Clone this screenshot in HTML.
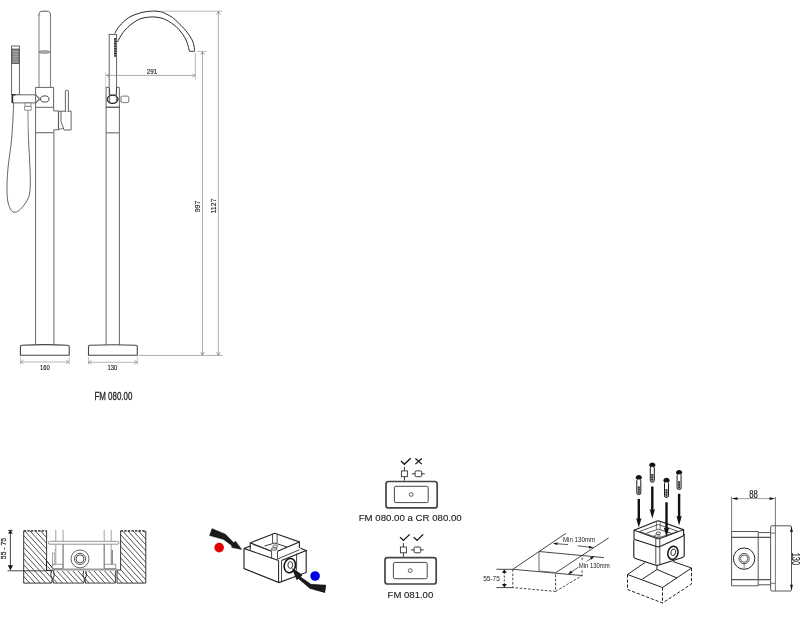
<!DOCTYPE html>
<html><head><meta charset="utf-8"><style>
html,body{margin:0;padding:0;background:#fff;width:800px;height:621px;overflow:hidden}
svg{display:block;will-change:transform}
text{font-family:"Liberation Sans",sans-serif}
</style></head><body>
<svg width="800" height="621" viewBox="0 0 800 621">
<line x1="39" y1="14.8" x2="39" y2="87.5" stroke="#a8a8a8" stroke-width="1.5"/>
<line x1="50.5" y1="14.8" x2="50.5" y2="87.5" stroke="#858585" stroke-width="1.1"/>
<path d="M38.9,15.5 Q38.9,11.2 42.2,11.2 H47.2 Q50.5,11.2 50.5,15.5" stroke="#555" stroke-width="1" fill="none"/>
<ellipse cx="44.5" cy="52" rx="5.6" ry="1.3" fill="#b8b8b8" stroke="#555" stroke-width="0.6"/>
<rect x="11.6" y="46" width="7.8" height="48.8" fill="#fff" stroke="#555" stroke-width="0.9"/>
<rect x="12.1" y="49" width="6.8" height="14.6" fill="#8a8a8a" stroke="#333" stroke-width="0.6"/>
<line x1="12.3" y1="51.5" x2="18.7" y2="51.5" stroke="#bbb" stroke-width="0.5"/>
<line x1="12.3" y1="54" x2="18.7" y2="54" stroke="#bbb" stroke-width="0.5"/>
<line x1="12.3" y1="56.5" x2="18.7" y2="56.5" stroke="#bbb" stroke-width="0.5"/>
<line x1="12.3" y1="59" x2="18.7" y2="59" stroke="#bbb" stroke-width="0.5"/>
<line x1="12.3" y1="61.5" x2="18.7" y2="61.5" stroke="#bbb" stroke-width="0.5"/>
<path d="M12.4,94.8 H35.6 L39.2,98.9 L35.6,102.9 H12.4 Z" stroke="#555" stroke-width="0.9" fill="#fff"/>
<line x1="12.4" y1="94.6" x2="12.4" y2="103.1" stroke="#222" stroke-width="1.6"/>
<line x1="12.4" y1="94.8" x2="15.5" y2="94.8" stroke="#222" stroke-width="1.2"/>
<path d="M35.6,345 V87.4 H53.6 V110.9 H58.4 V129.8 H53.8 V345" stroke="#555" stroke-width="0.9" fill="none"/>
<line x1="53.8" y1="132" x2="53.8" y2="345" stroke="#a8a8a8" stroke-width="1.3"/>
<line x1="35.6" y1="107.3" x2="53.6" y2="107.3" stroke="#555" stroke-width="0.9"/>
<line x1="35.6" y1="132.7" x2="53.8" y2="132.7" stroke="#777" stroke-width="1.2"/>
<ellipse cx="44.8" cy="99" rx="4.2" ry="3.1" fill="#fff" stroke="#333" stroke-width="0.9"/>
<path d="M35.6,94.8 L40.6,99 L35.6,102.9" stroke="#555" stroke-width="0.8" fill="none"/>
<path d="M58.6,111.2 H71.1 V130 H64 L61,121.5 V111.2" stroke="#555" stroke-width="0.9" fill="#fff"/>
<path d="M65.4,111.6 V91 Q65.4,90.3 66.1,90.3 H67.7 Q68.4,90.3 68.4,91 V111.6" stroke="#555" stroke-width="0.9" fill="#fff"/>
<path d="M58.6,111.2 V129.6 L63.5,128" stroke="#555" stroke-width="0.8" fill="none"/>
<path d="M25,103 H31 V106.4 H25 Z" stroke="#666" stroke-width="0.7" fill="#fff"/>
<path d="M24.6,106.4 H31.2 V110.2 H24.6 Z" stroke="#666" stroke-width="0.7" fill="#fff"/>
<line x1="27.9" y1="110.2" x2="28.2" y2="130" stroke="#777" stroke-width="0.9"/>
<path d="M13.7,103 C13.52,106.67 13.05,118 12.6,125 C12.15,132 11.72,138.33 11,145 C10.28,151.67 8.97,158.33 8.3,165 C7.63,171.67 7.12,179.17 7,185 C6.88,190.83 7.02,196 7.6,200 C8.18,204 9.43,206.97 10.5,209 C11.57,211.03 12.58,211.95 14,212.2 C15.42,212.45 17.08,212.03 19,210.5 C20.92,208.97 23.75,205.75 25.5,203 C27.25,200.25 28.7,197.83 29.5,194 C30.3,190.17 30.28,185.67 30.3,180 C30.32,174.33 29.85,165.83 29.6,160 C29.35,154.17 29.03,150 28.8,145 C28.57,140 28.3,132.5 28.2,130" stroke="#555" stroke-width="0.9" fill="none"/>
<path d="M20.4,355.3 V346.6 Q20.4,345.3 22,345.2 Q44.8,344 67.6,345.2 Q69.2,345.3 69.2,346.6 V355.3 Z" stroke="#444" stroke-width="1.1" fill="#fff"/>
<line x1="20.4" y1="357" x2="20.4" y2="364.5" stroke="#9a9a9a" stroke-width="0.6"/>
<line x1="69.2" y1="357" x2="69.2" y2="364.5" stroke="#9a9a9a" stroke-width="0.6"/>
<line x1="20.4" y1="362" x2="69.2" y2="362" stroke="#9a9a9a" stroke-width="0.7"/>
<path d="M23.48,360.23 L20.6,362 L23.48,363.77" stroke="#777" stroke-width="0.6" fill="none"/>
<path d="M66.12,363.77 L69,362 L66.12,360.23" stroke="#777" stroke-width="0.6" fill="none"/>
<text x="44.9" y="369.8" font-size="7.2" text-anchor="middle" fill="#222" textLength="9.8" lengthAdjust="spacingAndGlyphs" stroke="#222" stroke-width="0.15">160</text>
<path d="M114.7,33.6 C115.33,32.53 116.77,29.42 118.5,27.2 C120.23,24.98 123.02,22.12 125.1,20.3 C127.18,18.48 128.98,17.37 131,16.3 C133.02,15.23 135.2,14.58 137.2,13.9 C139.2,13.22 140.98,12.63 143,12.2 C145.02,11.77 147.3,11.48 149.3,11.3 C151.3,11.12 153.05,11.02 155,11.1 C156.95,11.18 159.15,11.33 161,11.8 C162.85,12.27 164.18,12.95 166.1,13.9 C168.02,14.85 170.48,16.03 172.5,17.5 C174.52,18.97 176.37,20.95 178.2,22.7 C180.03,24.45 181.9,26.25 183.5,28 C185.1,29.75 186.5,31.45 187.8,33.2 C189.1,34.95 190.35,36.77 191.3,38.5 C192.25,40.23 192.93,41.53 193.5,43.6 C194.07,45.67 194.5,49.68 194.7,50.9" stroke="#2a2a2a" stroke-width="1" fill="none"/>
<path d="M117.5,42 C118.08,40.92 119.73,37.5 121,35.5 C122.27,33.5 123.43,31.83 125.1,30 C126.77,28.17 128.98,26.12 131,24.5 C133.02,22.88 135.2,21.38 137.2,20.3 C139.2,19.22 140.98,18.53 143,18 C145.02,17.47 147.3,17.27 149.3,17.1 C151.3,16.93 153.05,16.85 155,17 C156.95,17.15 159.15,17.52 161,18 C162.85,18.48 164.35,19.03 166.1,19.9 C167.85,20.77 169.75,22 171.5,23.2 C173.25,24.4 175.02,25.63 176.6,27.1 C178.18,28.57 179.67,30.32 181,32 C182.33,33.68 183.53,35.28 184.6,37.2 C185.67,39.12 186.6,41.17 187.4,43.5 C188.2,45.83 189.07,49.92 189.4,51.2" stroke="#2a2a2a" stroke-width="1" fill="none"/>
<line x1="189.4" y1="51.3" x2="194.8" y2="51.3" stroke="#333" stroke-width="0.9"/>
<rect x="109.2" y="34.4" width="7.4" height="60.5" fill="#fff" stroke="#555" stroke-width="0.9"/>
<rect x="114.1" y="38.2" width="2.3" height="18.2" fill="#888"/>
<rect x="114.1" y="38.3" width="2.3" height="1.1" fill="#1a1a1a"/>
<rect x="114.1" y="40.75" width="2.3" height="1.1" fill="#1a1a1a"/>
<rect x="114.1" y="43.2" width="2.3" height="1.1" fill="#1a1a1a"/>
<rect x="114.1" y="45.65" width="2.3" height="1.1" fill="#1a1a1a"/>
<rect x="114.1" y="48.1" width="2.3" height="1.1" fill="#1a1a1a"/>
<rect x="114.1" y="50.55" width="2.3" height="1.1" fill="#1a1a1a"/>
<rect x="114.1" y="53" width="2.3" height="1.1" fill="#1a1a1a"/>
<rect x="114.1" y="55.45" width="2.3" height="1.1" fill="#1a1a1a"/>
<path d="M106.1,345 V87.4 H119.4 V345" stroke="#555" stroke-width="0.9" fill="none"/>
<line x1="106.1" y1="107.2" x2="119.4" y2="107.2" stroke="#333" stroke-width="1.1"/>
<line x1="106.1" y1="132.8" x2="119.4" y2="132.8" stroke="#888" stroke-width="1.4"/>
<line x1="109.6" y1="87.4" x2="109.6" y2="94.5" stroke="#444" stroke-width="0.9"/>
<line x1="116.4" y1="87.4" x2="116.4" y2="94.5" stroke="#444" stroke-width="0.9"/>
<rect x="109.7" y="86.6" width="6.2" height="1.6" fill="#fff"/>
<clipPath id="ellc"><ellipse cx="112.6" cy="99.3" rx="5.4" ry="4.1"/></clipPath>
<ellipse cx="112.6" cy="99.3" rx="5.4" ry="4.1" fill="#fff"/>
<rect x="107" y="95" width="2.6" height="9" fill="#d0d0d0" clip-path="url(#ellc)"/>
<rect x="116.4" y="95" width="2.2" height="9" fill="#bbb" clip-path="url(#ellc)"/>
<ellipse cx="112.6" cy="99.3" rx="5.4" ry="4.1" fill="none" stroke="#222" stroke-width="1.1"/>
<line x1="109.6" y1="94" x2="109.6" y2="103.2" stroke="#555" stroke-width="0.8"/>
<line x1="116.4" y1="94" x2="116.4" y2="103.2" stroke="#555" stroke-width="0.8"/>
<path d="M118,99.3 L120.9,96.8 M118,99.3 L120.9,101.8" stroke="#777" stroke-width="0.7" fill="none"/>
<rect x="121" y="96.1" width="7.8" height="6.5" rx="1.6" fill="#fff" stroke="#555" stroke-width="0.8"/>
<path d="M88.5,355.3 V346.6 Q88.5,345.4 90,345.3 Q112.9,344.2 135.8,345.3 Q137.3,345.4 137.3,346.6 V355.3 Z" stroke="#444" stroke-width="1.1" fill="#fff"/>
<line x1="88.5" y1="357" x2="88.5" y2="364.5" stroke="#9a9a9a" stroke-width="0.6"/>
<line x1="137.3" y1="357" x2="137.3" y2="364.5" stroke="#9a9a9a" stroke-width="0.6"/>
<line x1="88.5" y1="362.3" x2="137.3" y2="362.3" stroke="#9a9a9a" stroke-width="0.7"/>
<path d="M91.58,360.53 L88.7,362.3 L91.58,364.07" stroke="#777" stroke-width="0.6" fill="none"/>
<path d="M134.22,364.07 L137.1,362.3 L134.22,360.53" stroke="#777" stroke-width="0.6" fill="none"/>
<text x="112.4" y="369.8" font-size="7.2" text-anchor="middle" fill="#222" textLength="9.8" lengthAdjust="spacingAndGlyphs" stroke="#222" stroke-width="0.15">130</text>
<line x1="105.5" y1="72" x2="105.5" y2="115" stroke="#bbb" stroke-width="0.6"/>
<line x1="106" y1="75.4" x2="195.4" y2="75.4" stroke="#888" stroke-width="0.7"/>
<path d="M109.18,73.63 L106.3,75.4 L109.18,77.17" stroke="#888" stroke-width="0.6" fill="none"/>
<path d="M192.32,77.17 L195.2,75.4 L192.32,73.63" stroke="#888" stroke-width="0.6" fill="none"/>
<line x1="195.4" y1="53" x2="195.4" y2="79.5" stroke="#999" stroke-width="0.7"/>
<text x="152" y="74" font-size="6.9" text-anchor="middle" fill="#222" textLength="10.4" lengthAdjust="spacingAndGlyphs" stroke="#222" stroke-width="0.15">291</text>
<line x1="160" y1="11.2" x2="222.2" y2="11.2" stroke="#aaa" stroke-width="0.8"/>
<line x1="197" y1="51.4" x2="206.7" y2="51.4" stroke="#aaa" stroke-width="0.7"/>
<line x1="139" y1="355.4" x2="222.5" y2="355.4" stroke="#999" stroke-width="0.8"/>
<line x1="202.5" y1="51.6" x2="202.5" y2="355.2" stroke="#999" stroke-width="0.8"/>
<line x1="218.4" y1="11.4" x2="218.4" y2="355.2" stroke="#999" stroke-width="0.8"/>
<path d="M204.4,54.7 L202.5,51.6 L200.6,54.7" stroke="#666" stroke-width="0.6" fill="none"/>
<path d="M200.6,352.1 L202.5,355.2 L204.4,352.1" stroke="#666" stroke-width="0.6" fill="none"/>
<path d="M220.3,14.5 L218.4,11.4 L216.5,14.5" stroke="#666" stroke-width="0.6" fill="none"/>
<path d="M216.5,352.1 L218.4,355.2 L220.3,352.1" stroke="#666" stroke-width="0.6" fill="none"/>
<text x="0" y="0" font-size="7" text-anchor="middle" fill="#222" transform="translate(199.9,206.5) rotate(-90)" stroke="#222" stroke-width="0.15">997</text>
<text x="0" y="0" font-size="7" text-anchor="middle" fill="#222" transform="translate(215.9,206) rotate(-90)" stroke="#222" stroke-width="0.15">1127</text>
<text x="113.4" y="400.3" font-size="10.8" text-anchor="middle" fill="#222" textLength="38" lengthAdjust="spacingAndGlyphs" stroke="#222" stroke-width="0.3">FM 080.00</text>
<defs>
<clipPath id="hL"><path d="M23.7,530.8 H46.7 V570.7 H23.7 Z M23.7,570.7 H51.6 V583.1 H23.7 Z"/></clipPath>
<clipPath id="hM"><path d="M53.2,570.9 H84 V583.1 H53.2 Z M85,570.9 H115.4 V583.1 H85 Z"/></clipPath>
<clipPath id="hR"><path d="M120.6,530.8 H145.8 V583.1 H117 V570.1 H120.6 Z"/></clipPath>
</defs>
<path d="M-23.05,530.8 L24.5,583.1 M-17.75,530.8 L29.8,583.1 M-12.45,530.8 L35.1,583.1 M-7.15,530.8 L40.4,583.1 M-1.85,530.8 L45.7,583.1 M3.45,530.8 L51,583.1 M8.75,530.8 L56.3,583.1 M14.05,530.8 L61.6,583.1 M19.35,530.8 L66.9,583.1 M24.65,530.8 L72.2,583.1 M29.95,530.8 L77.5,583.1 M35.25,530.8 L82.8,583.1 M40.55,530.8 L88.1,583.1 M45.85,530.8 L93.4,583.1 M51.15,530.8 L98.7,583.1" stroke="#333" stroke-width="0.85" fill="none" clip-path="url(#hL)"/>
<path d="M40.91,570.9 L52,583.1 M46.21,570.9 L57.3,583.1 M51.51,570.9 L62.6,583.1 M56.81,570.9 L67.9,583.1 M62.11,570.9 L73.2,583.1 M67.41,570.9 L78.5,583.1 M72.71,570.9 L83.8,583.1 M78.01,570.9 L89.1,583.1 M83.31,570.9 L94.4,583.1 M88.61,570.9 L99.7,583.1 M93.91,570.9 L105,583.1 M99.21,570.9 L110.3,583.1 M104.51,570.9 L115.6,583.1 M109.81,570.9 L120.9,583.1 M115.11,570.9 L126.2,583.1" stroke="#333" stroke-width="0.85" fill="none" clip-path="url(#hM)"/>
<path d="M69.45,530.8 L117,583.1 M74.75,530.8 L122.3,583.1 M80.05,530.8 L127.6,583.1 M85.35,530.8 L132.9,583.1 M90.65,530.8 L138.2,583.1 M95.95,530.8 L143.5,583.1 M101.25,530.8 L148.8,583.1 M106.55,530.8 L154.1,583.1 M111.85,530.8 L159.4,583.1 M117.15,530.8 L164.7,583.1 M122.45,530.8 L170,583.1 M127.75,530.8 L175.3,583.1 M133.05,530.8 L180.6,583.1 M138.35,530.8 L185.9,583.1 M143.65,530.8 L191.2,583.1" stroke="#333" stroke-width="0.85" fill="none" clip-path="url(#hR)"/>
<path d="M23.7,583.1 V530.8 M46.6,530.8 V561 M23.7,583.1 H51.6" stroke="#222" stroke-width="0.9" fill="none"/>
<line x1="23.7" y1="530.8" x2="46.7" y2="530.8" stroke="#111" stroke-width="1.3" stroke-dasharray="2.4,1.2"/>
<line x1="7.5" y1="570.8" x2="46.7" y2="570.8" stroke="#333" stroke-width="0.9"/>
<path d="M46.6,560.8 L54.2,570.2 L46.6,570.5 Z" stroke="#111" stroke-width="1" fill="#fff"/>
<path d="M47.6,566.5 L50.4,569.6" stroke="#333" stroke-width="0.7" fill="none"/>
<path d="M51.5,571 C50.6,574 50.6,576 51.5,577 C52.4,578 52.4,580.5 51.5,583" stroke="#111" stroke-width="0.9" fill="none"/>
<path d="M53.5,571 C54.4,574 54.4,576 53.5,577 C52.6,578 52.6,580.5 53.5,583" stroke="#111" stroke-width="0.9" fill="none"/>
<path d="M83.7,571 C82.8,574 82.8,576 83.7,577 C84.6,578 84.6,580.5 83.7,583" stroke="#111" stroke-width="0.9" fill="none"/>
<path d="M85.7,571 C86.6,574 86.6,576 85.7,577 C84.8,578 84.8,580.5 85.7,583" stroke="#111" stroke-width="0.9" fill="none"/>
<path d="M53.2,583.1 H84 M85,583.1 H115.4 V570.9" stroke="#333" stroke-width="0.9" fill="none"/>
<line x1="52.5" y1="569.6" x2="117" y2="569.6" stroke="#999" stroke-width="2"/>
<path d="M145.8,583.1 V530.8 M120.6,530.8 V570.1 H117 V583.1 H145.8" stroke="#222" stroke-width="0.9" fill="none"/>
<line x1="120.6" y1="530.8" x2="145.8" y2="530.8" stroke="#111" stroke-width="1.3" stroke-dasharray="2.4,1.2"/>
<line x1="55.8" y1="529.8" x2="55.8" y2="568.5" stroke="#999" stroke-width="0.9"/>
<line x1="63.1" y1="529.8" x2="63.1" y2="568.5" stroke="#999" stroke-width="0.9"/>
<line x1="104.2" y1="529.8" x2="104.2" y2="568.5" stroke="#999" stroke-width="0.9"/>
<line x1="111.2" y1="529.8" x2="111.2" y2="568.5" stroke="#999" stroke-width="0.9"/>
<rect x="48.5" y="541.3" width="70.4" height="2.9" rx="1.2" fill="#fff" stroke="#777" stroke-width="0.8"/>
<line x1="63.1" y1="544.2" x2="63.1" y2="568.5" stroke="#777" stroke-width="0.8"/>
<line x1="104.2" y1="544.2" x2="104.2" y2="568.5" stroke="#777" stroke-width="0.8"/>
<rect x="52.4" y="564.2" width="10.4" height="4.3" fill="#fff" stroke="#777" stroke-width="0.7"/>
<rect x="104.4" y="564.2" width="11.4" height="4.3" fill="#fff" stroke="#777" stroke-width="0.7"/>
<rect x="52.6" y="553" width="2.2" height="11.2" fill="#fff" stroke="#777" stroke-width="0.6"/>
<line x1="54.6" y1="551" x2="55.6" y2="549" stroke="#777" stroke-width="0.6"/>
<line x1="112.2" y1="550" x2="112.2" y2="564.2" stroke="#333" stroke-width="0.8"/>
<circle cx="80" cy="558.9" r="9" fill="#fff" stroke="#555" stroke-width="0.9"/>
<circle cx="80" cy="558.9" r="5.6" fill="none" stroke="#444" stroke-width="0.9"/>
<circle cx="80" cy="558.9" r="4" fill="none" stroke="#444" stroke-width="0.9"/>
<line x1="10.4" y1="531" x2="10.4" y2="569.5" stroke="#333" stroke-width="0.9"/>
<path d="M10.4,530.2 L8,533.5 H12.8 Z M10.4,570.2 L7.8,565.2 H13 Z" fill="#111"/>
<line x1="8.3" y1="530.4" x2="12.5" y2="530.4" stroke="#222" stroke-width="1"/>
<text x="0" y="0" font-size="7.6" text-anchor="middle" fill="#222" transform="translate(6.2,548.5) rotate(-90)" textLength="21.3" lengthAdjust="spacingAndGlyphs" stroke="#222" stroke-width="0.2">55 - 75</text>
<circle cx="219.2" cy="547.6" r="4.8" fill="#e60000"/>
<circle cx="315.1" cy="576" r="4.8" fill="#0000e6"/>
<path d="M212,528.5 L225.5,534.2 L233.6,542.6 L235.6,541.2 L241.8,549.6 L231.8,547.6 L231.6,545.4 L223.5,539.4 L209.5,535.6 Z" fill="#1a1a1a" stroke="#1a1a1a" stroke-width="0.4" stroke-linejoin="round"/>
<path d="M292.4,568.6 L302,574.9 L300.4,577 L311,584.4 L325.7,585.2 L324.7,592.4 L309.9,588.3 L298.6,578.6 L296.8,579.5 Z" fill="#1a1a1a" stroke="#1a1a1a" stroke-width="0.4" stroke-linejoin="round"/>
<path d="M244,548.5 V568.6 L279,582.6 L306.2,572.4 V550.6" stroke="#1e1e1e" stroke-width="1.1" fill="none"/>
<path d="M244,548.5 L250.4,545.9 M244,548.5 L278.6,560.6 M281.5,560.6 L306.2,550.6 L300.4,548.3" stroke="#1e1e1e" stroke-width="1.1" fill="none"/>
<line x1="278.6" y1="560.6" x2="278.6" y2="582.3" stroke="#1e1e1e" stroke-width="1"/>
<line x1="281.5" y1="560.6" x2="281.5" y2="581.6" stroke="#333" stroke-width="0.9"/>
<line x1="296.6" y1="553.5" x2="296.6" y2="570.6" stroke="#333" stroke-width="0.9"/>
<path d="M250.2,549.8 V542.8 L274.8,533.3 L299.4,542 V548" stroke="#1e1e1e" stroke-width="1.1" fill="none"/>
<path d="M250.2,542.8 L271.6,551.2 M277.5,551.2 L299.4,542" stroke="#1e1e1e" stroke-width="1.1" fill="none"/>
<path d="M252.8,544.3 L271.6,551.2" stroke="#333" stroke-width="0.8" fill="none"/>
<path d="M264.5,546 L274.8,543 L287,547" stroke="#222" stroke-width="0.9" fill="none"/>
<path d="M277.5,559 L299.4,549.8" stroke="#333" stroke-width="0.9" fill="none"/>
<line x1="272.6" y1="533.6" x2="272.6" y2="543" stroke="#333" stroke-width="0.9"/>
<line x1="277.1" y1="533.8" x2="277.1" y2="543" stroke="#333" stroke-width="0.9"/>
<line x1="271.6" y1="551.2" x2="271.6" y2="558.4" stroke="#333" stroke-width="0.9"/>
<line x1="277.5" y1="551.2" x2="277.5" y2="559" stroke="#333" stroke-width="0.9"/>
<ellipse cx="275.3" cy="546.3" rx="2.4" ry="1.3" fill="#fff" stroke="#333" stroke-width="0.8"/>
<ellipse cx="274.2" cy="549" rx="3" ry="1.2" fill="#fff" stroke="#333" stroke-width="0.8"/>
<ellipse cx="289.8" cy="565.6" rx="5.6" ry="7.2" fill="#fff" stroke="#111" stroke-width="1.6" transform="rotate(12 289.8 565.6)"/>
<ellipse cx="290.3" cy="565" rx="2.4" ry="3.4" fill="#fff" stroke="#222" stroke-width="0.9"/>
<path d="M292.4,568.6 L302,574.9 L300.4,577 L311,584.4 L325.7,585.2 L324.7,592.4 L309.9,588.3 L298.6,578.6 L296.8,579.5 Z" fill="#1a1a1a" stroke="#1a1a1a" stroke-width="0.4" stroke-linejoin="round"/>
<path d="M401,461 L404.39,464.3 L410.7,458.3" stroke="#111" stroke-width="1.3" fill="none"/>
<path d="M415.4,458.5 L421.8,464.1 M421.8,458.5 L415.4,464.1" stroke="#111" stroke-width="1.2" fill="none"/>
<line x1="404.4" y1="466.9" x2="404.4" y2="470.9" stroke="#222" stroke-width="0.9"/>
<rect x="401.4" y="470.9" width="6" height="5.8" fill="#fff" stroke="#333" stroke-width="0.9"/>
<line x1="404.4" y1="476.7" x2="404.4" y2="480.7" stroke="#222" stroke-width="0.9"/>
<line x1="412" y1="473.8" x2="415.1" y2="473.8" stroke="#222" stroke-width="0.9"/>
<line x1="421.7" y1="473.8" x2="424.8" y2="473.8" stroke="#222" stroke-width="0.9"/>
<rect x="415.1" y="470.9" width="6.6" height="5.8" rx="1.2" fill="#fff" stroke="#222" stroke-width="0.9"/>
<rect x="386" y="481.5" width="51.2" height="26.4" rx="2.5" fill="#fff" stroke="#444" stroke-width="1.7"/>
<rect x="394.4" y="486.3" width="33.8" height="16.3" rx="1.5" fill="#fff" stroke="#333" stroke-width="0.9"/>
<circle cx="411.2" cy="494.5" r="1.9" fill="#fff" stroke="#333" stroke-width="0.8"/>
<path d="M400,537.1 L403.39,540.4 L409.7,534.4" stroke="#111" stroke-width="1.3" fill="none"/>
<path d="M413.7,537.1 L417.02,540.4 L423.2,534.4" stroke="#111" stroke-width="1.3" fill="none"/>
<line x1="403.4" y1="543" x2="403.4" y2="547" stroke="#222" stroke-width="0.9"/>
<rect x="400.4" y="547" width="6" height="5.8" fill="#fff" stroke="#333" stroke-width="0.9"/>
<line x1="403.4" y1="552.8" x2="403.4" y2="556.8" stroke="#222" stroke-width="0.9"/>
<line x1="411" y1="549.9" x2="414.1" y2="549.9" stroke="#222" stroke-width="0.9"/>
<line x1="420.7" y1="549.9" x2="423.8" y2="549.9" stroke="#222" stroke-width="0.9"/>
<rect x="414.1" y="547" width="6.6" height="5.8" rx="1.2" fill="#fff" stroke="#222" stroke-width="0.9"/>
<rect x="385" y="557.6" width="51.2" height="26.4" rx="2.5" fill="#fff" stroke="#444" stroke-width="1.7"/>
<rect x="393.4" y="562.4" width="33.8" height="16.3" rx="1.5" fill="#fff" stroke="#333" stroke-width="0.9"/>
<circle cx="410.2" cy="570.6" r="1.9" fill="#fff" stroke="#333" stroke-width="0.8"/>
<text x="410.2" y="520.8" font-size="9.2" text-anchor="middle" fill="#222" textLength="103" lengthAdjust="spacingAndGlyphs" stroke="#222" stroke-width="0.12">FM 080.00 a CR 080.00</text>
<text x="410.4" y="598.2" font-size="9.3" text-anchor="middle" fill="#222" textLength="45.7" lengthAdjust="spacingAndGlyphs" stroke="#222" stroke-width="0.12">FM 081.00</text>
<path d="M512.8,569.3 L566,533.3" stroke="#333" stroke-width="0.9" fill="none"/>
<path d="M555.6,572.8 L608.6,537.9" stroke="#333" stroke-width="0.9" fill="none"/>
<path d="M539,551.5 V570.8" stroke="#555" stroke-width="0.9" fill="none"/>
<path d="M539,551.5 L604,557.6" stroke="#333" stroke-width="0.9" fill="none"/>
<path d="M512.8,569.3 L582.5,575.6" stroke="#333" stroke-width="0.9" fill="none"/>
<path d="M539,571 L555.6,572.6" stroke="#555" stroke-width="0.8" fill="none"/>
<path d="M512.8,569.3 V587.6 L555.6,591.4 V572.8 M555.6,591.4 L582.1,575.6 V555.3" stroke="#333" stroke-width="0.9" fill="none" stroke-dasharray="2.6,1.6"/>
<line x1="496.4" y1="569.3" x2="512.8" y2="569.3" stroke="#333" stroke-width="0.9"/>
<line x1="496.4" y1="587.6" x2="512.8" y2="587.6" stroke="#333" stroke-width="0.9"/>
<line x1="504.3" y1="572" x2="504.3" y2="585" stroke="#333" stroke-width="0.9" stroke-dasharray="2.2,1.4"/>
<path d="M504.3,569.5 L501.9,572.8 H506.8 Z M504.3,587.4 L501.9,584.1 H506.8 Z" fill="#111"/>
<text x="491.5" y="580.9" font-size="8" text-anchor="middle" fill="#222" textLength="16.6" lengthAdjust="spacingAndGlyphs">55-75</text>
<line x1="553.6" y1="543.5" x2="568" y2="544.6" stroke="#333" stroke-width="0.8"/>
<line x1="577.6" y1="545.8" x2="592.8" y2="547.5" stroke="#333" stroke-width="0.8"/>
<path d="M553.4,543.4 L557.5,542.31 L557.28,545.1 Z" fill="#111"/>
<path d="M592.9,547.6 L588.77,548.55 L589.08,545.76 Z" fill="#111"/>
<text x="579" y="542.3" font-size="8" text-anchor="middle" fill="#222" textLength="32" lengthAdjust="spacingAndGlyphs">Min 130mm</text>
<line x1="568.6" y1="573.9" x2="593.9" y2="556.5" stroke="#333" stroke-width="0.8"/>
<path d="M568.4,574 L570.9,570.58 L572.49,572.89 Z" fill="#111"/>
<path d="M594,556.4 L591.5,559.82 L589.91,557.51 Z" fill="#111"/>
<rect x="578.5" y="561.5" width="31" height="8" fill="#fff"/>
<text x="594.2" y="568.3" font-size="8" text-anchor="middle" fill="#222" textLength="31" lengthAdjust="spacingAndGlyphs">Min 130mm</text>
<path d="M635.6,478.2 C635.8,473.9 641.8,473.9 642,478.2 L641,479.1 L636.6,479.1 Z" fill="#111"/>
<rect x="636.8" y="479" width="4" height="15.6" rx="1.6" fill="#fff" stroke="#1a1a1a" stroke-width="1"/>
<rect x="637.8" y="486.4" width="2" height="7.5" fill="#666"/>
<rect x="637.8" y="486.7" width="2" height="0.9" fill="#222"/>
<rect x="637.8" y="489.2" width="2" height="0.9" fill="#222"/>
<rect x="637.8" y="491.7" width="2" height="0.9" fill="#222"/>
<rect x="637.6" y="498.9" width="2.4" height="21.7" fill="#111"/>
<path d="M636.1,518 L638.8,519.4 L641.5,518 L638.8,527.6 Z" fill="#111"/>
<path d="M649.1,465.8 C649.3,461.5 655.3,461.5 655.5,465.8 L654.5,466.7 L650.1,466.7 Z" fill="#111"/>
<rect x="650.3" y="466.6" width="4" height="15.6" rx="1.6" fill="#fff" stroke="#1a1a1a" stroke-width="1"/>
<rect x="651.3" y="474" width="2" height="7.5" fill="#666"/>
<rect x="651.3" y="474.3" width="2" height="0.9" fill="#222"/>
<rect x="651.3" y="476.8" width="2" height="0.9" fill="#222"/>
<rect x="651.3" y="479.3" width="2" height="0.9" fill="#222"/>
<rect x="651.1" y="486.5" width="2.4" height="25.1" fill="#111"/>
<path d="M649.6,509 L652.3,510.4 L655,509 L652.3,518.6 Z" fill="#111"/>
<path d="M675.9,473.1 C676.1,468.8 682.1,468.8 682.3,473.1 L681.3,474 L676.9,474 Z" fill="#111"/>
<rect x="677.1" y="473.9" width="4" height="15.6" rx="1.6" fill="#fff" stroke="#1a1a1a" stroke-width="1"/>
<rect x="678.1" y="481.3" width="2" height="7.5" fill="#666"/>
<rect x="678.1" y="481.6" width="2" height="0.9" fill="#222"/>
<rect x="678.1" y="484.1" width="2" height="0.9" fill="#222"/>
<rect x="678.1" y="486.6" width="2" height="0.9" fill="#222"/>
<rect x="677.9" y="493.8" width="2.4" height="24.6" fill="#111"/>
<path d="M676.4,515.8 L679.1,517.2 L681.8,515.8 L679.1,525.4 Z" fill="#111"/>
<path d="M633.8,539.5 V556.5 Q633.8,558 635.5,558.5 L655,565 Q657,565.7 659,565 L682.5,557.5 Q684.2,557 684.2,555.5 V534" stroke="#1a1a1a" stroke-width="1.1" fill="#fff"/>
<path d="M634,530.2 L656.5,521.2 Q658.3,520.5 660,521.2 L683.6,529.7 V534.5 Q683.6,536 682,536.6 L660,546.5 Q658.3,547.3 656.5,546.5 L635.5,539.8 Q634,539.2 634,538 Z" stroke="#1a1a1a" stroke-width="1.1" fill="#fff"/>
<path d="M634,530.2 L656.8,538.6 Q658.3,539.2 659.8,538.6 L683.6,529.7" stroke="#1a1a1a" stroke-width="1" fill="none"/>
<path d="M639.5,531.5 L658.3,524.5 L678,531.3 L658.3,538 Z" stroke="#333" stroke-width="0.8" fill="none"/>
<path d="M646.5,533.2 L658.3,529.2 L671,533.2" stroke="#333" stroke-width="0.8" fill="none"/>
<line x1="656.4" y1="521.5" x2="656.4" y2="529.4" stroke="#444" stroke-width="0.7"/>
<line x1="660.2" y1="521.5" x2="660.2" y2="529.4" stroke="#444" stroke-width="0.7"/>
<ellipse cx="658.3" cy="533.2" rx="2.2" ry="1.3" fill="none" stroke="#333" stroke-width="0.8"/>
<ellipse cx="657.2" cy="536" rx="3.2" ry="1.2" fill="none" stroke="#333" stroke-width="0.7"/>
<line x1="655.8" y1="538.8" x2="655.8" y2="564.5" stroke="#333" stroke-width="0.9"/>
<line x1="659.8" y1="538.8" x2="659.8" y2="564.5" stroke="#333" stroke-width="0.9"/>
<ellipse cx="672.9" cy="552.8" rx="5" ry="6.6" fill="#fff" stroke="#111" stroke-width="1.5" transform="rotate(15 672.9 552.8)"/>
<ellipse cx="673.3" cy="552.3" rx="2.3" ry="3.4" fill="#fff" stroke="#222" stroke-width="0.9" transform="rotate(15 673.3 552.3)"/>
<path d="M663.3,481 C663.5,476.7 669.5,476.7 669.7,481 L668.7,481.9 L664.3,481.9 Z" fill="#111"/>
<rect x="664.5" y="481.8" width="4" height="15.6" rx="1.6" fill="#fff" stroke="#1a1a1a" stroke-width="1"/>
<rect x="665.5" y="489.2" width="2" height="7.5" fill="#666"/>
<rect x="665.5" y="489.5" width="2" height="0.9" fill="#222"/>
<rect x="665.5" y="492" width="2" height="0.9" fill="#222"/>
<rect x="665.5" y="494.5" width="2" height="0.9" fill="#222"/>
<rect x="665.3" y="502.3" width="2.4" height="27.7" fill="#111"/>
<path d="M663.8,527.4 L666.5,528.8 L669.2,527.4 L666.5,537 Z" fill="#111"/>
<path d="M627.5,574.5 L645,562.5 M673,561.5 L691.5,568 L662.5,587.5 L627.5,574.5 M657,565.5 V569.5 L642.5,579 M657,569.5 L677,578" stroke="#222" stroke-width="1" fill="none"/>
<path d="M627.5,574.5 V589.5 L662.5,603 L691.5,584 V568 M662.5,587.5 V603" stroke="#222" stroke-width="1" fill="none" stroke-dasharray="3.2,1.8"/>
<line x1="731.6" y1="497" x2="731.6" y2="531.5" stroke="#555" stroke-width="0.8"/>
<line x1="775.4" y1="497" x2="775.4" y2="591" stroke="#555" stroke-width="0.8"/>
<line x1="733" y1="498.6" x2="774" y2="498.6" stroke="#777" stroke-width="0.7"/>
<path d="M731.8,498.6 L737.5,497.2 V500 Z M775.2,498.6 L769.5,497.2 V500 Z" fill="#111"/>
<rect x="748.5" y="491" width="10" height="7" fill="#fff"/>
<text x="753.5" y="498.4" font-size="10" text-anchor="middle" fill="#222" textLength="8.6" lengthAdjust="spacingAndGlyphs" stroke="#222" stroke-width="0.2">88</text>
<path d="M731.6,531.5 H758.2 V585.8 H731.6 Z" stroke="#444" stroke-width="0.9" fill="none"/>
<line x1="731.6" y1="537.4" x2="770.6" y2="537.4" stroke="#555" stroke-width="1.1"/>
<line x1="731.6" y1="579.6" x2="770.6" y2="579.6" stroke="#555" stroke-width="1.1"/>
<path d="M758.2,532.6 H770.6 M758.2,584.8 H770.6" stroke="#444" stroke-width="0.9" fill="none"/>
<rect x="770.6" y="525.8" width="20.9" height="65.2" rx="1.4" fill="none" stroke="#444" stroke-width="0.9"/>
<line x1="770.6" y1="533.1" x2="775.4" y2="533.1" stroke="#555" stroke-width="0.8"/>
<line x1="770.6" y1="583.3" x2="775.4" y2="583.3" stroke="#555" stroke-width="0.8"/>
<circle cx="744.1" cy="558.6" r="10.7" fill="none" stroke="#222" stroke-width="1"/>
<circle cx="744.1" cy="558.6" r="5.1" fill="none" stroke="#333" stroke-width="0.9"/>
<circle cx="744.1" cy="558.6" r="3.6" fill="none" stroke="#444" stroke-width="0.8"/>
<line x1="744.1" y1="562.2" x2="744.1" y2="568.5" stroke="#555" stroke-width="0.7"/>
<line x1="791.5" y1="527" x2="791.5" y2="590" stroke="#555" stroke-width="0.7"/>
<path d="M791.5,526.2 L790.1,532 H792.9 Z M791.5,590.6 L790.1,584.8 H792.9 Z" fill="#111"/>
<text x="0" y="0" font-size="10" text-anchor="middle" fill="#222" transform="translate(791.7,558.9) rotate(90)" textLength="12.5" lengthAdjust="spacingAndGlyphs" stroke="#222" stroke-width="0.2">130</text>
</svg>
</body></html>
